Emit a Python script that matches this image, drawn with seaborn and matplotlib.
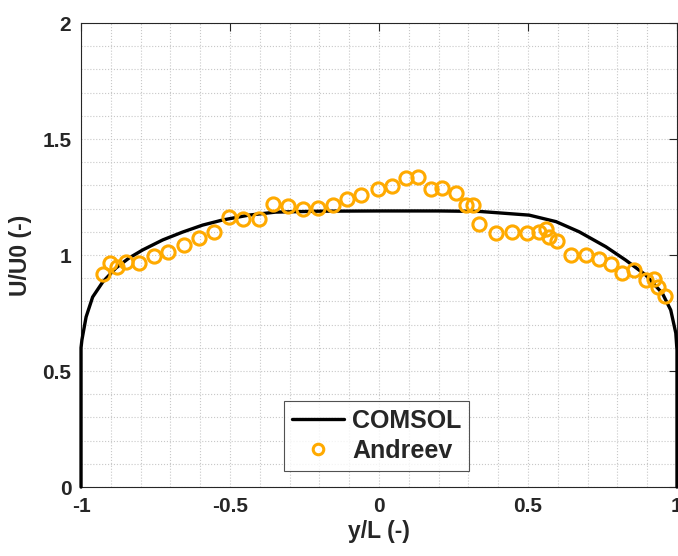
import numpy as np
import pandas as pd
import matplotlib
matplotlib.use("Agg")
import matplotlib.pyplot as plt
import seaborn as sns
from matplotlib.ticker import MultipleLocator

# COMSOL profile
comsol_x = [-1.0, -1.0, -0.997, -0.983, -0.961, -0.927, -0.883, -0.839, -0.793, -0.726,
            -0.659, -0.592, -0.525, -0.437, -0.347, -0.2, 0.0, 0.2, 0.337, 0.504,
            0.594, 0.672, 0.761, 0.828, 0.895, 0.951, 0.979, 0.996, 1.0, 1.0]
comsol_y = [0.0, 0.60, 0.634, 0.733, 0.819, 0.884, 0.944, 0.987, 1.022, 1.065,
            1.099, 1.129, 1.151, 1.172, 1.185, 1.189, 1.19, 1.19, 1.188, 1.172,
            1.144, 1.100, 1.036, 0.978, 0.914, 0.835, 0.763, 0.664, 0.59, 0.0]

# Andreev data
andreev_x = [-0.926, -0.903, -0.879, -0.849, -0.806, -0.755, -0.709, -0.655, -0.605, -0.554,
             -0.504, -0.457, -0.404, -0.357, -0.307, -0.256, -0.206, -0.156, -0.106, -0.059,
             -0.002, 0.045, 0.092, 0.132, 0.173, 0.213, 0.260, 0.293, 0.317, 0.337,
             0.394, 0.447, 0.497, 0.538, 0.561, 0.571, 0.598, 0.645, 0.695, 0.739,
             0.779, 0.816, 0.856, 0.896, 0.923, 0.936, 0.960]
andreev_y = [0.918, 0.966, 0.948, 0.970, 0.966, 0.996, 1.013, 1.043, 1.073, 1.099,
             1.164, 1.155, 1.155, 1.220, 1.211, 1.198, 1.203, 1.216, 1.241, 1.259,
             1.284, 1.297, 1.332, 1.336, 1.284, 1.289, 1.267, 1.216, 1.216, 1.134,
             1.095, 1.099, 1.095, 1.099, 1.112, 1.078, 1.060, 1.000, 1.000, 0.983,
             0.961, 0.922, 0.935, 0.892, 0.897, 0.862, 0.823]

x_ticks = [-1, -0.5, 0, 0.5, 1]
x_tick_labels = ["-1", "-0.5", "0", "0.5", "1"]
y_ticks = [0, 0.5, 1, 1.5, 2]
y_tick_labels = ["0", "0.5", "1", "1.5", "2"]

line_df = pd.DataFrame({"x": comsol_x, "y": comsol_y})
pts_df = pd.DataFrame({"x": andreev_x, "y": andreev_y})

sns.set_style("white")
plt.rcParams["font.family"] = ["Liberation Sans", "DejaVu Sans"]
plt.rcParams["font.weight"] = "bold"

fig = plt.figure(figsize=(6.78, 5.56), dpi=100)
ax = fig.add_axes([0.1195, 0.124, 0.879, 0.8346])

sns.lineplot(data=line_df, x="x", y="y", sort=False, estimator=None, color="black",
             linewidth=2.4, ax=ax, label="COMSOL", zorder=3)
ax.lines[0].set_clip_on(False)
ax.plot(pts_df["x"], pts_df["y"], linestyle="none", marker="o", markersize=9.5,
        markerfacecolor="none", markeredgecolor="#FFAA00", markeredgewidth=2.2,
        label="Andreev", zorder=4)

ax.set_xlim(-1, 1)
ax.set_ylim(0, 2)
ax.set_xticks(x_ticks, x_tick_labels)
ax.set_yticks(y_ticks, y_tick_labels)
ax.xaxis.set_minor_locator(MultipleLocator(0.1))
ax.yaxis.set_minor_locator(MultipleLocator(0.1))
ax.grid(which="both", color="#c8c8c8", linestyle=":", linewidth=0.8)
ax.tick_params(which="major", direction="in", length=6, width=0.8, top=True, right=True,
               labelsize=15, colors="#262626", pad=7)
ax.tick_params(which="minor", length=0)
for s in ax.spines.values():
    s.set_color("#262626")
    s.set_linewidth(0.8)

ax.set_xlabel("y/L (-)", fontsize=16.5, fontweight="bold", color="#262626", labelpad=3)
ax.set_ylabel("U/U0 (-)", fontsize=16.5, fontweight="bold", color="#262626", labelpad=7)

leg = ax.legend(loc="center", bbox_to_anchor=(0.496, 0.11), fontsize=18, frameon=True,
                fancybox=False, edgecolor="#262626", handlelength=2.1, handletextpad=0.3,
                borderpad=0.3, borderaxespad=0, labelspacing=0.25, markerscale=0.8)
leg.get_frame().set_linewidth(0.8)
for t in leg.get_texts():
    t.set_fontweight("bold")

fig.savefig("out.png", dpi=100)
